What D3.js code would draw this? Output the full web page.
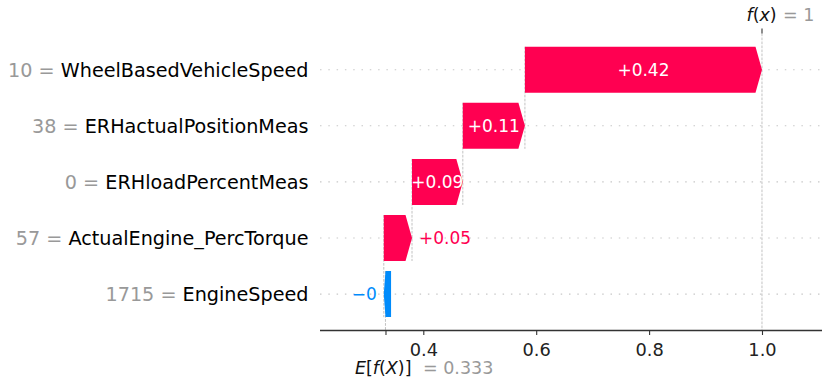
<!DOCTYPE html>
<html>
<head>
<meta charset="utf-8">
<script src="https://cdn.jsdelivr.net/npm/d3@7"></script>
<style>
  body { margin: 0; background: #fff; }
  svg { display: block; }
  text { font-family: "DejaVu Sans", sans-serif; }
</style>
</head>
<body>
<svg id="chart" width="822" height="383"></svg>
<script>
// Feature contributions for one prediction, largest magnitude first (top row first)
const features = ["WheelBasedVehicleSpeed", "ERHactualPositionMeas", "ERHloadPercentMeas", "ActualEngine_PercTorque", "EngineSpeed"];
const featureValues = ["10", "38", "0", "57", "1715"];
const shapValues = [0.42, 0.11, 0.09, 0.05, -0.003];
const baseValue = 0.333;
const xTickValues = [0.4, 0.6, 0.8, 1.0];

const RED = "#ff0051", BLUE = "#008bfb";
const svg = d3.select("#chart");
const plot = { left: 320, right: 822, top: 33.5, bottom: 330 };

const fx = baseValue + d3.sum(shapValues);

const x = d3.scaleLinear().domain([0.2170, 1.1063]).range([plot.left, plot.right]);
const y = d3.scaleLinear().domain([0, features.length - 1]).range([69.7, 294.1]);
const unit = y(1) - y(0);
const halfBar = 0.41 * unit;
const headLen = 6.5;

// number formatting: +0.42, trailing zeros stripped, real minus sign
function fmt(v, spec) {
  let s = d3.format(spec)(v);
  s = s.replace(/\.?0+$/, "");
  if (s[0] === "-") s = "\u2212" + s.slice(1);
  return s;
}

// cumulative positions, walking down from f(x)
let loc = fx;
const rows = shapValues.map((v, i) => {
  loc -= v;
  return { i, v, start: loc, name: features[i], fval: featureValues[i] };
});

// horizontal dotted row guides
svg.append("g").selectAll("line").data(rows).join("line")
  .attr("x1", plot.left).attr("x2", plot.right)
  .attr("y1", d => y(d.i)).attr("y2", d => y(d.i))
  .attr("stroke", "#c8c8c8").attr("stroke-width", 1.1)
  .attr("stroke-dasharray", "1.5,6.8");

// dashed connectors between consecutive bars
svg.append("g").selectAll("line").data(rows).join("line")
  .attr("x1", d => x(d.start)).attr("x2", d => x(d.start))
  .attr("y1", d => y(d.i) - halfBar)
  .attr("y2", d => Math.min(y(d.i + 1) + halfBar, plot.bottom))
  .attr("stroke", "#bbbbbb").attr("stroke-width", 0.9)
  .attr("stroke-dasharray", "2.7,1.3");

// f(x) vertical guide
svg.append("line")
  .attr("x1", x(fx)).attr("x2", x(fx))
  .attr("y1", plot.top).attr("y2", plot.bottom)
  .attr("stroke", "#bbbbbb").attr("stroke-width", 0.9)
  .attr("stroke-dasharray", "2.7,1.3");

// arrow-shaped bars
function arrowPath(d) {
  const cy = y(d.i), t = cy - halfBar, b = cy + halfBar;
  const x0 = x(d.start), x1 = x(d.start + d.v);
  const len = Math.abs(x1 - x0);
  if (d.v >= 0) {
    const h = Math.min(len, headLen);
    return `M${x0},${t}L${x1 - h},${t}L${x1},${cy}L${x1 - h},${b}L${x0},${b}Z`;
  } else {
    // very small contributions keep a minimum visible width
    const L = x1, R = Math.max(x0, L + headLen + 0.8);
    const h = Math.min(len, headLen);
    return `M${R},${t}L${L + h},${t}L${L},${cy}L${L + h},${b}L${R},${b}Z`;
  }
}

svg.append("g").selectAll("path").data(rows).join("path")
  .attr("d", arrowPath)
  .attr("fill", d => d.v >= 0 ? RED : BLUE);

// value labels: inside the bar when they fit, outside otherwise
const labelG = svg.append("g");
rows.forEach(d => {
  const x0 = x(d.start), x1 = x(d.start + d.v);
  const barW = Math.abs(x1 - x0);
  const t = labelG.append("text")
    .attr("x", (x0 + x1) / 2).attr("y", y(d.i))
    .attr("dominant-baseline", "central")
    .attr("text-anchor", "middle")
    .attr("font-size", 17)
    .attr("fill", "#fff")
    .text(fmt(d.v, "+.2f"));
  const tw = t.node().getComputedTextLength();
  if (tw > barW + 3) {
    if (d.v >= 0) {
      t.attr("x", x1 + 7).attr("text-anchor", "start").attr("fill", RED);
    } else {
      t.attr("x", Math.min(x0, x1) - 7).attr("text-anchor", "end").attr("fill", BLUE);
    }
  }
});

// feature labels: "value = name"
const yl = svg.append("g").selectAll("text").data(rows).join("text")
  .attr("x", 308.5).attr("y", d => y(d.i))
  .attr("text-anchor", "end")
  .attr("dominant-baseline", "central")
  .attr("font-size", 19.2);
yl.append("tspan").attr("fill", "#999999").text(d => d.fval + " = ");
yl.append("tspan").attr("fill", "#000").text(d => d.name);

// bottom axis, with an extra unlabeled tick at the base value
const axisTicks = xTickValues.concat([baseValue]);
const axis = d3.axisBottom(x).tickValues(axisTicks).tickSize(5).tickPadding(8)
  .tickFormat(v => xTickValues.includes(v) ? d3.format(".1f")(v) : "");
const ag = svg.append("g").attr("transform", `translate(0,${plot.bottom})`).call(axis);
ag.select(".domain").attr("stroke", "#333").attr("stroke-width", 1.3)
  .attr("d", `M${plot.left},0.5H${plot.right}`);
ag.selectAll(".tick line").attr("stroke", "#333").attr("stroke-width", 1.1);
ag.selectAll(".tick text").attr("font-size", 17.8).attr("fill", "#222")
  .attr("font-family", "DejaVu Sans");

// E[f(X)] label under the base-value tick
const bx = x(baseValue);
const eLab = svg.append("text").attr("x", bx - 30.5).attr("y", 374).attr("font-size", 17.5).attr("fill", "#111");
eLab.append("tspan").attr("font-style", "italic").text("E");
eLab.append("tspan").text("[");
eLab.append("tspan").attr("font-style", "italic").text("f");
eLab.append("tspan").text("(");
eLab.append("tspan").attr("font-style", "italic").text("X");
eLab.append("tspan").text(")]");
svg.append("text").attr("x", bx + 37.5).attr("y", 374).attr("font-size", 17.5)
  .attr("fill", "#999999").text("= " + fmt(baseValue, ".3f"));

// f(x) label and tick at the top
const fxp = x(fx);
svg.append("line").attr("x1", fxp).attr("x2", fxp).attr("y1", 28.5).attr("y2", 33.5)
  .attr("stroke", "#333").attr("stroke-width", 1.1);
const fLab = svg.append("text").attr("x", fxp - 15.5).attr("y", 21).attr("font-size", 17.5).attr("fill", "#111");
fLab.append("tspan").attr("font-style", "italic").text("f");
fLab.append("tspan").text("(");
fLab.append("tspan").attr("font-style", "italic").text("x");
fLab.append("tspan").text(")");
svg.append("text").attr("x", fxp + 21).attr("y", 21).attr("font-size", 17.5)
  .attr("fill", "#999999").text("= " + fmt(fx, ".3f"));
</script>
</body>
</html>
